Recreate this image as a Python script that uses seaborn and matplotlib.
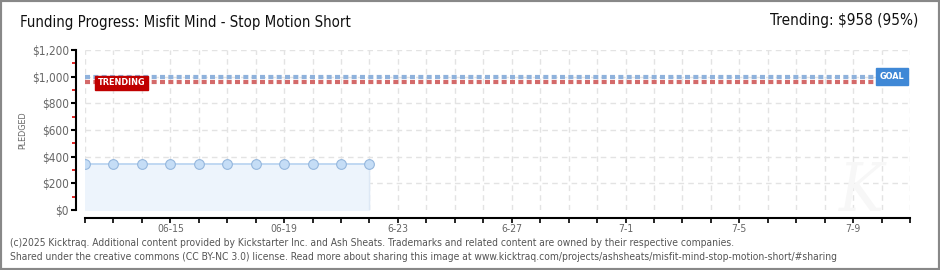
import matplotlib
matplotlib.use("Agg")
import matplotlib.pyplot as plt
import matplotlib.patches as mpatches
import seaborn as sns
import pandas as pd
import numpy as np

# ---- data ----
dates = ["2025-06-12", "2025-06-13", "2025-06-14", "2025-06-15", "2025-06-16",
         "2025-06-17", "2025-06-18", "2025-06-19", "2025-06-20", "2025-06-21",
         "2025-06-22"]
pledged = [345, 345, 345, 345, 345, 345, 345, 345, 345, 345, 345]
goal = 1000
trending = 958
start_date = "2025-06-12"
end_date = "2025-07-11"
xtick_labels = ["06-15", "06-19", "6-23", "6-27", "7-1", "7-5", "7-9"]
xtick_dates = ["2025-06-15", "2025-06-19", "2025-06-23", "2025-06-27",
               "2025-07-01", "2025-07-05", "2025-07-09"]
ytick_values = [0, 200, 400, 600, 800, 1000, 1200]
ytick_labels = ["$0", "$200", "$400", "$600", "$800", "$1,000", "$1,200"]

title = "Funding Progress: Misfit Mind - Stop Motion Short"
footer1 = ("(c)2025 Kicktraq. Additional content provided by Kickstarter Inc. and Ash Sheats. "
           "Trademarks and related content are owned by their respective companies.")
footer2 = ("Shared under the creative commons (CC BY-NC 3.0) license. Read more about sharing "
           "this image at www.kicktraq.com/projects/ashsheats/misfit-mind-stop-motion-short/#sharing")

sns.set_theme(style="white")
plt.rcParams["font.family"] = ["DejaVu Sans"]
plt.rcParams["font.stretch"] = "condensed"

t0 = pd.Timestamp(start_date)
def day(d):
    return (pd.Timestamp(d) - t0).days

df = pd.DataFrame({"day": [day(d) for d in dates], "pledged": pledged})
last_day = day(end_date)

W, H = 940, 270
fig = plt.figure(figsize=(W / 100, H / 100), dpi=100)
fig.patch.set_facecolor("white")
ax = fig.add_axes([85 / W, 1 - 210 / H, (910 - 85) / W, 160 / H])
ax.set_facecolor("white")

# grid
for d in range(0, last_day + 1):
    ax.axvline(d, color="#e3e3e3", lw=1, ls=(0, (4, 3)), zorder=0)
for v in ytick_values[1:]:
    ax.axhline(v, color="#e3e3e3", lw=1, ls=(0, (4, 3)), zorder=0)

# area + line
ax.fill_between(df["day"], 0, df["pledged"], color="#edf4fc", zorder=1)
ax.plot([df["day"].iloc[-1]] * 2, [0, df["pledged"].iloc[-1]], color="#dde8f5", lw=1, zorder=1)
sns.lineplot(data=df, x="day", y="pledged", ax=ax, color="#b7d3f0", lw=1.2,
             marker="o", markersize=7, markerfacecolor="#c5ddf6",
             markeredgecolor="#95b7dd", markeredgewidth=0.8, zorder=3)

# goal & trending lines
ax.axhline(goal, color="#8fb2dc", lw=3, ls=(0, (1.2, 0.8)), zorder=2)
ax.axhline(trending, color="#d46a6a", lw=3, ls=(0, (1.2, 0.8)), zorder=2)

ax.set_xlim(0, last_day)
ax.set_ylim(0, 1200)

# badges
ax.text(0.45, trending - 5, "TRENDING", color="white", fontsize=6.5, fontweight="bold",
        va="center", ha="left",
        bbox=dict(boxstyle="square,pad=0.3", fc="#c00000", ec="#c00000"), zorder=5)
ax.text(last_day - 0.2, goal + 2, "GOAL", color="white", fontsize=6.5, fontweight="bold",
        va="center", ha="right",
        bbox=dict(boxstyle="square,pad=0.4", fc="#3f88d6", ec="#3f88d6"), zorder=5)

# watermark
ax.text(last_day - 1.7, 130, "K", fontsize=48, color="#f7f7f7", style="italic",
        ha="center", va="center", zorder=0.5, family=["DejaVu Serif"])

# spines
sns.despine(ax=ax, top=True, right=True)
ax.spines["left"].set_position(("outward", 6.5))
ax.spines["bottom"].set_position(("outward", 5.8))
ax.spines["left"].set_color("black")
ax.spines["bottom"].set_color("black")
ax.spines["left"].set_linewidth(1.5)
ax.spines["bottom"].set_linewidth(1.5)

ax.set_yticks(ytick_values)
ax.set_yticklabels(ytick_labels, color="#666666", fontsize=8.5)
ax.set_yticks([100, 300, 500, 700, 900, 1100], minor=True)
ax.tick_params(axis="y", which="major", length=3.5, width=1.5, color="black", direction="out", pad=1.5, left=True)
ax.tick_params(axis="y", which="minor", length=3, width=1.2, color="#dd0000", direction="out", left=True)

ax.set_xticks([day(d) for d in xtick_dates])
ax.set_xticks([d for d in range(0, last_day + 1)], minor=True)
ax.set_xticklabels(xtick_labels, color="#666666", fontsize=7.5)
ax.tick_params(axis="x", which="both", length=3.5, width=1.2, color="black", direction="out", bottom=True, pad=1)

ax.set_xlabel("")
ax.set_ylabel("PLEDGED", color="#666666", fontsize=6.5)
ax.yaxis.set_label_coords(-58 / 825, 0.5)

# titles
fig.text(20 / W, 1 - 23 / H, title, fontsize=10.7, color="#111111", va="center", ha="left")
fig.text(918 / W, 1 - 21 / H, "Trending: $958 (95%)", fontsize=11, color="#111111",
         va="center", ha="right")

# footer
fig.text(10 / W, 1 - 243 / H, footer1, fontsize=7.4, color="#555555", va="center", ha="left")
fig.text(10 / W, 1 - 257 / H, footer2, fontsize=7.4, color="#555555", va="center", ha="left")

# border
fig.patches.append(mpatches.Rectangle((0, 0), 1, 1, transform=fig.transFigure, fill=False,
                                      ec="#888888", lw=3))

fig.savefig("out.png", dpi=100)
